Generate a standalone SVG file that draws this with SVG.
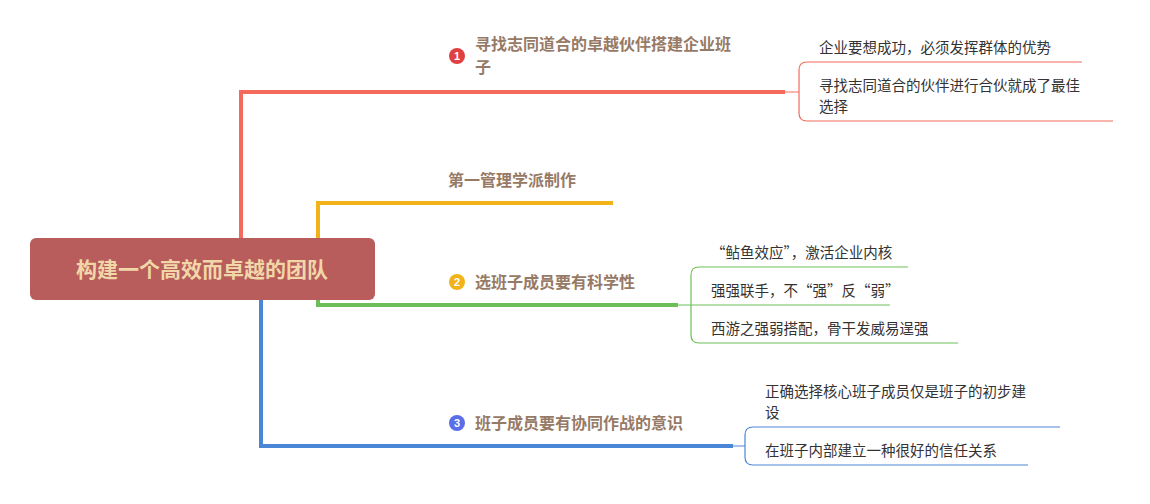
<svg xmlns="http://www.w3.org/2000/svg" width="1150" height="504" viewBox="0 0 1150 504">
<style>
.b{font-family:"Noto Sans CJK SC","Noto Sans",sans-serif;font-weight:bold;font-size:16px;fill:#977a66}
.c{font-family:"Noto Sans CJK SC","Noto Sans",sans-serif;font-size:14.5px;fill:#333}
.n{font-family:"Liberation Sans",sans-serif;font-weight:bold;font-size:11px;fill:#fff;text-anchor:middle}
.t{fill:none;stroke-width:4}
.s{fill:none;stroke-width:1.2}
</style>
<rect width="1150" height="504" fill="#fff"/>
<g id="connectors">
<path class="t" stroke="#f46b5c" d="M241 238V92H785"/>
<path class="s" stroke="#f46b5c" d="M785 92H799M1082 62H807Q799 62 799 70V113Q799 121 807 121H1113"/>
<path class="t" stroke="#f2b318" d="M318 238V203H613"/>
<path class="t" stroke="#6cbf58" d="M318 300V305H678"/>
<path class="s" stroke="#6cbf58" d="M678 305H890M908 267H699Q691 267 691 275V335Q691 343 699 343H958"/>
<path class="t" stroke="#4a86d6" d="M261 300V446H733"/>
<path class="s" stroke="#4a86d6" d="M733 446H745M1060 427H753Q745 427 745 435V457Q745 465 753 465H1028"/>
</g>
<g id="root"><rect x="30" y="238" width="345" height="62" rx="6" fill="#b85c5c"/>
<text x="202" y="277" text-anchor="middle" font-family="Noto Sans CJK SC,sans-serif" font-weight="bold" font-size="21" fill="#f1d7a7">构建一个高效而卓越的团队</text></g>
<g id="n1"><circle cx="457" cy="56" r="8" fill="#e04040"/><text class="n" x="457" y="60">1</text>
<text class="b" x="475" y="50">寻找志同道合的卓越伙伴搭建企业班</text><text class="b" x="475" y="73">子</text></g>
<g id="n1a"><text class="c" x="819" y="53">企业要想成功，必须发挥群体的优势</text></g>
<g id="n1b"><text class="c" x="819" y="91">寻找志同道合的伙伴进行合伙就成了最佳</text><text class="c" x="819" y="112">选择</text></g>
<g id="n2"><text class="b" x="448" y="186">第一管理学派制作</text></g>
<g id="n3"><circle cx="457" cy="282" r="8" fill="#f2b318"/><text class="n" x="457" y="286">2</text>
<text class="b" x="475" y="288">选班子成员要有科学性</text></g>
<g id="n3a"><text class="c" x="711" y="258">“鲇鱼效应”，激活企业内核</text></g>
<g id="n3b"><text class="c" x="711" y="296">强强联手，不“强”反“弱”</text></g>
<g id="n3c"><text class="c" x="711" y="334">西游之强弱搭配，骨干发威易逞强</text></g>
<g id="n4"><circle cx="457" cy="423" r="8" fill="#5a6ee8"/><text class="n" x="457" y="427">3</text>
<text class="b" x="475" y="429">班子成员要有协同作战的意识</text></g>
<g id="n4a"><text class="c" x="765" y="397">正确选择核心班子成员仅是班子的初步建</text><text class="c" x="765" y="418">设</text></g>
<g id="n4b"><text class="c" x="765" y="456">在班子内部建立一种很好的信任关系</text></g>
</svg>
